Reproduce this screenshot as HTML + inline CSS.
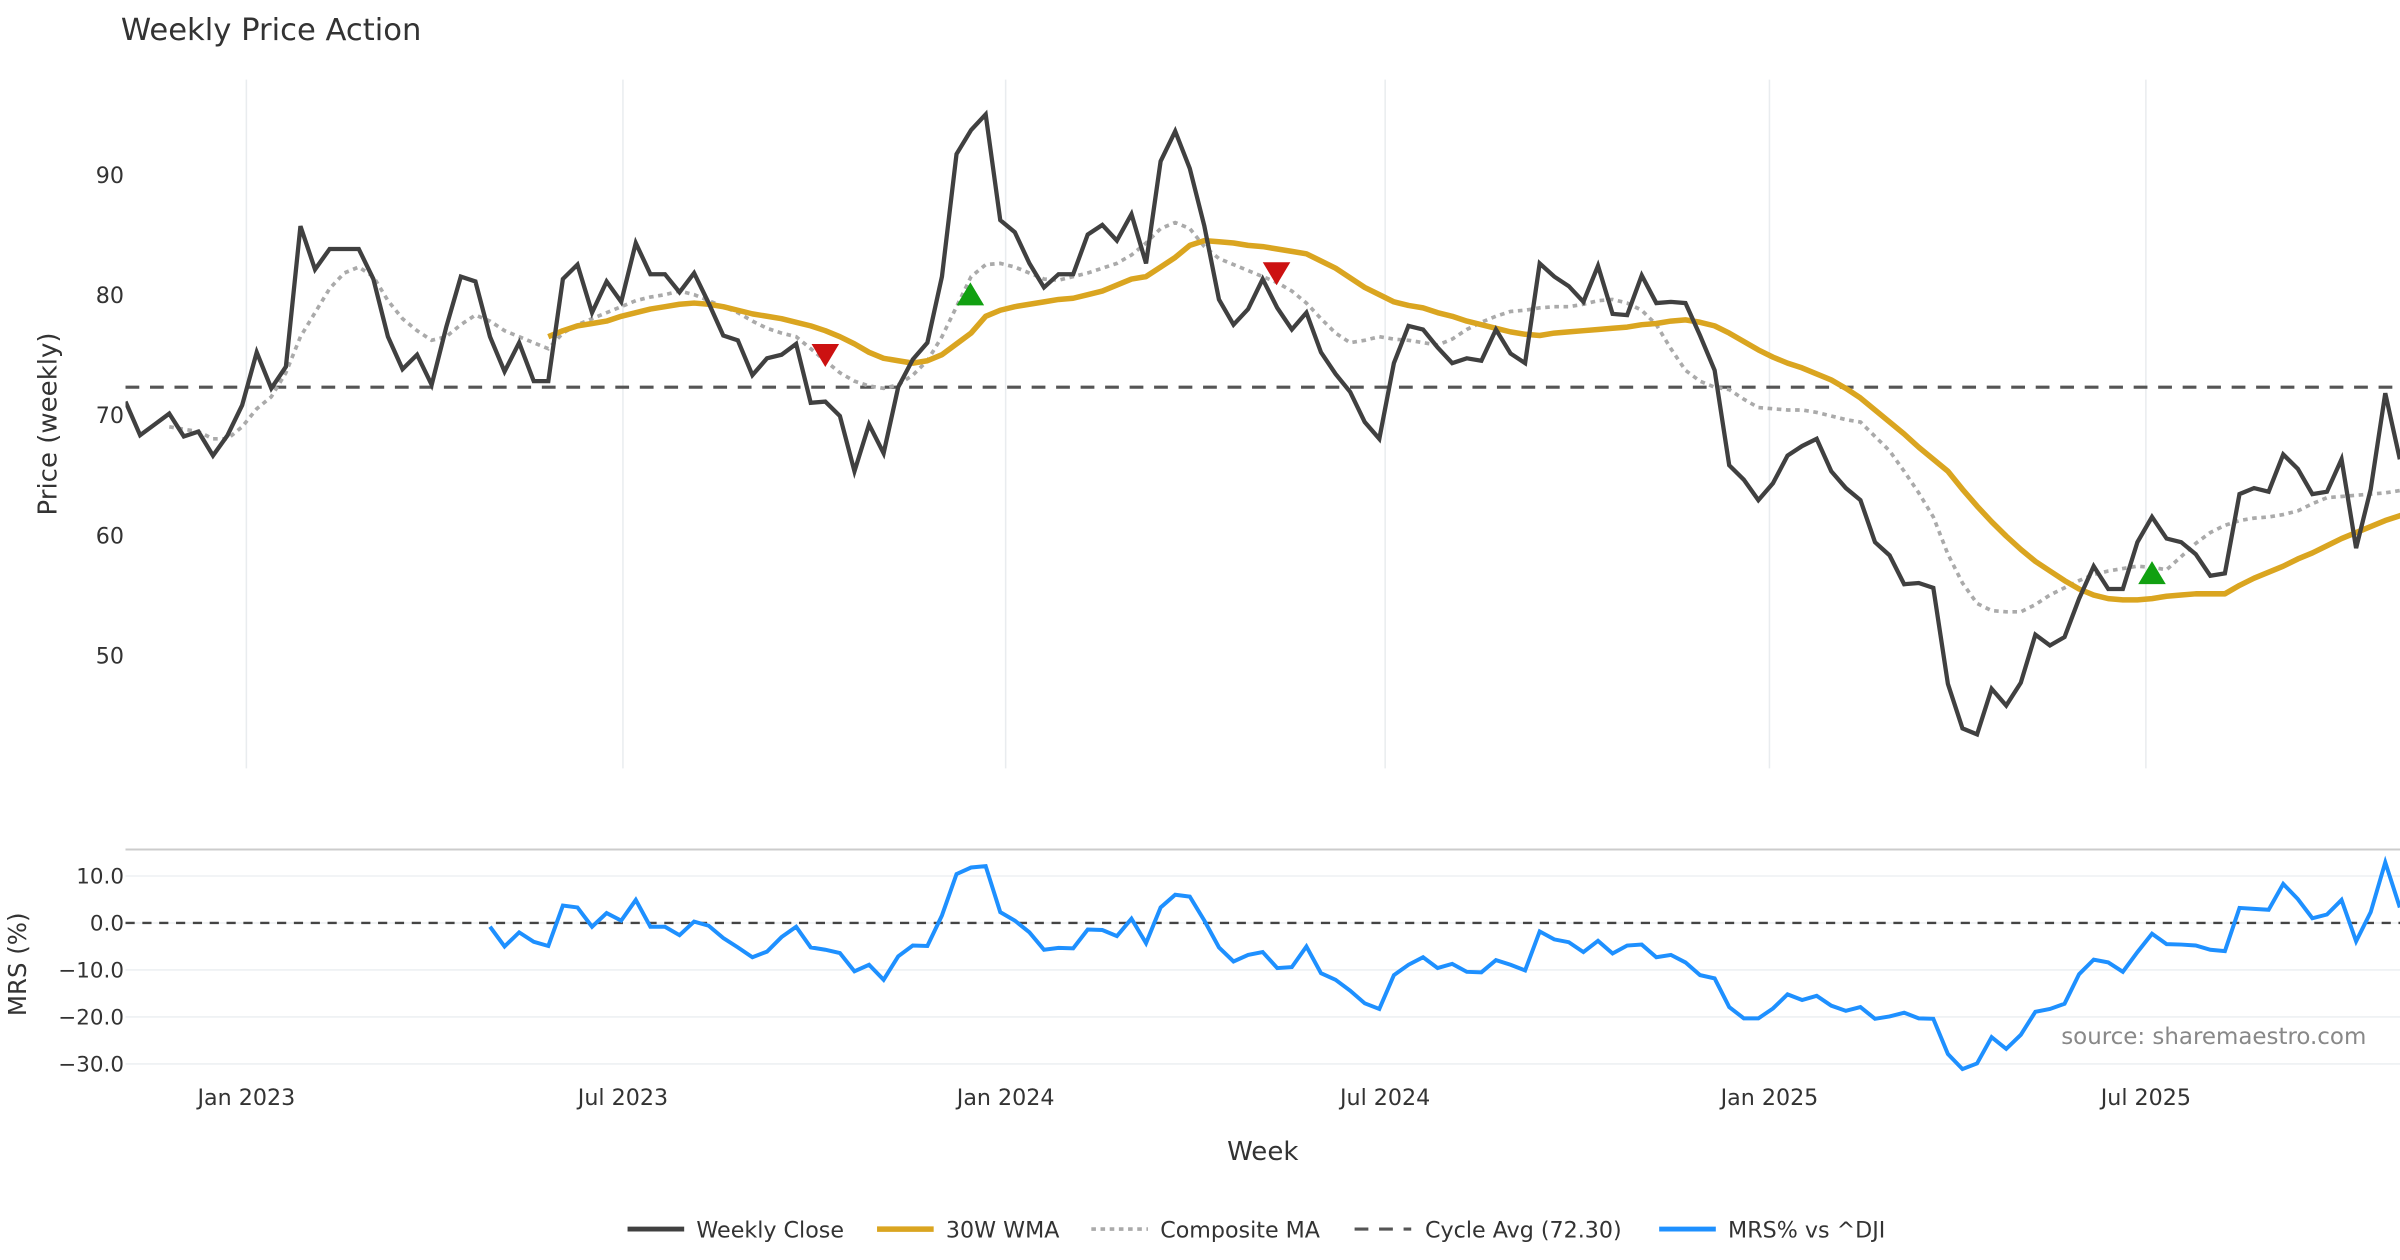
<!DOCTYPE html>
<html><head><meta charset="utf-8"><style>
html,body{margin:0;padding:0;background:#fff;}
svg{display:block;font-family:"DejaVu Sans","Liberation Sans",sans-serif;}
</style></head><body>
<svg id="chart" width="2400" height="1260" viewBox="0 0 1568 823.2" xmlns="http://www.w3.org/2000/svg">
<defs><clipPath id="plotclip"><rect x="82" y="40" width="1486" height="700"/></clipPath></defs>
<rect x="0" y="0" width="1568" height="823.2" fill="#fff"/>
<text x="79" y="26" font-size="20" fill="#333">Weekly Price Action</text>
<g id="grid"></g>
<g id="series" clip-path="url(#plotclip)"></g>
<g id="axes"></g>
<text transform="translate(37,277) rotate(-90)" text-anchor="middle" font-size="17" fill="#333">Price (weekly)</text>
<text transform="translate(17,630) rotate(-90)" text-anchor="middle" font-size="16" fill="#333">MRS (%)</text>
<text x="825" y="758" text-anchor="middle" font-size="17" fill="#333">Week</text>
<text x="1546" y="682" text-anchor="end" font-size="15" fill="#888">source: sharemaestro.com</text>
<g id="legend">
  <g><line x1="410" y1="803" x2="447" y2="803" stroke="#404040" stroke-width="3.2"/><text x="455" y="808.5" font-size="14.5" fill="#333">Weekly Close</text></g>
  <g><line x1="573" y1="803" x2="610" y2="803" stroke="#DAA520" stroke-width="3.6"/><text x="618" y="808.5" font-size="14.5" fill="#333">30W WMA</text></g>
  <g><line x1="713" y1="803" x2="750" y2="803" stroke="#aaa" stroke-width="2.4" stroke-dasharray="3 3"/><text x="758" y="808.5" font-size="14.5" fill="#333">Composite MA</text></g>
  <g><line x1="885" y1="803" x2="922" y2="803" stroke="#555" stroke-width="2" stroke-dasharray="9 7"/><text x="931" y="808.5" font-size="14.5" fill="#333">Cycle Avg (72.30)</text></g>
  <g><line x1="1084" y1="803" x2="1121" y2="803" stroke="#1E90FF" stroke-width="3.2"/><text x="1129" y="808.5" font-size="14.5" fill="#333">MRS% vs ^DJI</text></g>
</g>
</svg>
<script>
const closeVals = [71.1,68.3,69.2,70.1,68.2,68.6,66.6,68.3,70.8,75.2,72.2,74.0,85.7,82.1,83.8,83.8,83.8,81.3,76.5,73.8,75.0,72.5,77.3,81.5,81.1,76.5,73.6,76.0,72.8,72.8,81.3,82.5,78.5,81.1,79.4,84.3,81.7,81.7,80.2,81.8,79.3,76.6,76.2,73.3,74.7,75.0,75.9,71.0,71.1,69.9,65.3,69.2,66.8,72.3,74.6,76.0,81.5,91.7,93.7,95.0,86.2,85.2,82.6,80.6,81.7,81.7,85.0,85.8,84.5,86.7,82.6,91.1,93.6,90.5,85.7,79.6,77.5,78.8,81.3,78.9,77.1,78.5,75.2,73.4,71.9,69.4,68.0,74.3,77.4,77.1,75.6,74.3,74.7,74.5,77.1,75.1,74.3,82.6,81.5,80.7,79.4,82.4,78.4,78.3,81.6,79.3,79.4,79.3,76.6,73.7,65.8,64.6,62.9,64.3,66.6,67.4,68.0,65.3,63.9,62.9,59.4,58.3,55.9,56.0,55.6,47.6,43.9,43.4,47.2,45.8,47.7,51.7,50.8,51.5,54.7,57.4,55.5,55.5,59.4,61.5,59.7,59.4,58.4,56.6,56.8,63.4,63.9,63.6,66.7,65.5,63.4,63.6,66.3,58.9,63.8,71.8,66.3];
const wmaVals = [null,null,null,null,null,null,null,null,null,null,null,null,null,null,null,null,null,null,null,null,null,null,null,null,null,null,null,null,null,
76.5,77.0,77.4,77.6,77.8,78.2,78.5,78.8,79.0,79.2,79.3,79.2,79.0,78.7,78.4,78.2,78.0,77.7,77.4,77.0,76.5,75.9,75.2,74.7,74.5,74.3,74.5,75.0,75.9,76.8,78.2,78.7,79.0,79.2,79.4,79.6,79.7,80.0,80.3,80.8,81.3,81.5,82.3,83.1,84.1,84.5,84.4,84.3,84.1,84.0,83.8,83.6,83.4,82.8,82.2,81.4,80.6,80.0,79.4,79.1,78.9,78.5,78.2,77.8,77.5,77.2,76.9,76.7,76.6,76.8,76.9,77.0,77.1,77.2,77.3,77.5,77.6,77.8,77.9,77.7,77.4,76.8,76.1,75.4,74.8,74.3,73.9,73.4,72.9,72.2,71.4,70.4,69.4,68.4,67.3,66.3,65.3,63.8,62.4,61.1,59.9,58.8,57.8,57.0,56.2,55.5,55.0,54.7,54.6,54.6,54.7,54.9,55.0,55.1,55.1,55.1,55.8,56.4,56.9,57.4,58.0,58.5,59.1,59.7,60.2,60.7,61.2,61.6,62.0];
const compositeVals = [null,null,null,
69.0,68.8,68.6,68.0,68.0,69.0,70.5,71.5,73.5,76.5,78.5,80.5,81.8,82.3,81.5,79.5,78.0,77.0,76.2,76.5,77.5,78.3,77.8,77.0,76.5,76.0,75.5,76.8,77.5,78.0,78.5,79.0,79.5,79.8,80.0,80.3,80.0,79.5,79.0,78.5,77.8,77.2,76.8,76.5,75.5,74.5,73.5,72.8,72.4,72.2,72.5,73.3,74.5,76.5,79,81.5,82.5,82.6,82.3,81.8,81.3,81.2,81.5,81.8,82.2,82.6,83.3,84.3,85.5,86.0,85.5,84,83,82.5,82,81.5,81,80.3,79.3,78,76.8,76,76.2,76.5,76.3,76.2,76,75.8,76.3,77.1,77.7,78.2,78.6,78.7,78.9,79,79,
79.2,79.5,79.6,79.3,78.7,77.5,75.5,73.7,72.8,72.3,72.1,71.3,70.6,70.5,70.4,70.4,70.2,69.9,69.6,69.4,68.2,67.0,65.3,63.5,61.5,58.4,56.0,54.3,53.7,53.6,53.6,54.2,55.0,55.6,56.2,56.7,57.0,57.2,57.4,57.3,57.1,58.2,59.3,60.2,60.8,61.2,61.4,61.5,61.7,62.0,62.6,63.1,63.2,63.3,63.4,63.5,63.7];
const mrsVals = [null,null,null,null,null,null,null,null,null,null,null,null,null,null,null,null,null,null,null,null,null,null,null,null,null,
-0.8,-5.0,-2.0,-4.0,-4.9,3.7,3.3,-0.8,2.1,0.5,4.9,-0.8,-0.8,-2.6,0.3,-0.6,-3.2,-5.2,-7.3,-6.1,-3.0,-0.8,-5.2,-5.7,-6.4,-10.3,-8.9,-12.1,-7.1,-4.8,-4.9,1.6,10.4,11.8,12.1,2.3,0.5,-2.0,-5.7,-5.3,-5.4,-1.4,-1.5,-2.8,0.9,-4.3,3.3,6.0,5.6,0.5,-5.2,-8.2,-6.8,-6.2,-9.6,-9.4,-5.0,-10.7,-12.1,-14.4,-17.1,-18.3,-11.1,-8.9,-7.3,
-9.6,-8.7,-10.4,-10.5,-7.9,-8.9,-10.1,-1.8,-3.5,-4.1,-6.2,-3.8,-6.5,-4.8,-4.6,-7.3,-6.8,-8.4,-11.1,-11.8,-17.9,-20.3,-20.3,-18.2,-15.2,-16.4,-15.5,-17.6,-18.7,-17.9,-20.4,-19.9,-19.1,-20.3,-20.4,-27.9,-31.1,-29.9,-24.3,-26.8,-23.8,-18.9,-18.3,-17.2,-10.9,-7.8,-8.4,-10.4,-6.2,-2.3,-4.5,-4.6,-4.8,-5.7,-6.0,3.2,3.0,2.8,8.3,5.1,1.0,1.8,4.9,-3.9,2.3,12.9,3.3];
const cycleAvg = 72.30;
const priceTicks = [50,60,70,80,90];
const mrsTicks = [10,0,-10,-20,-30];
const mrsTickLabels = ["10.0","0.0","\u221210.0","\u221220.0","\u221230.0"];
const dateTickIdx = [8.29,34.12,60.37,86.4,112.76,138.58];
const dateTickLabels = ["Jan 2023","Jul 2023","Jan 2024","Jul 2024","Jan 2025","Jul 2025"];
const signalUpIdx = [57.95,139.0];
const signalUpVals = [80.0,56.8];
const signalDownIdx = [48.0,78.95];
const signalDownVals = [75.0,81.8];

const NS="http://www.w3.org/2000/svg";
function xs(i){return 82 + i*9.525;}
function yp(v){return 114 + (90-v)*7.85;}
function ym(v){return 603 - v*3.07;}
function mk(tag,attrs,parent){const e=document.createElementNS(NS,tag);for(const k in attrs)e.setAttribute(k,attrs[k]);parent.appendChild(e);return e;}
const grid=document.getElementById('grid'),ser=document.getElementById('series'),axes=document.getElementById('axes');

dateTickIdx.forEach((d,k)=>{
  const l=mk('line',{x1:xs(d),x2:xs(d),y1:52,y2:502,stroke:'#e9ecef','stroke-width':1},grid);
  
  
  const t=mk('text',{x:xs(d),y:722,'text-anchor':'middle','font-size':14.5,fill:'#333'},axes);
  t.textContent=dateTickLabels[k];
  
  
});
priceTicks.forEach(v=>{
  const t=mk('text',{x:81,y:yp(v)+5.5,'text-anchor':'end','font-size':14.5,fill:'#333'},axes);
  t.textContent=v;
  
  
});
const border=mk('line',{x1:82,x2:1568,y1:555,y2:555,stroke:'#ccc','stroke-width':1.3},grid);


mrsTicks.forEach((v,k)=>{
  const l=mk('line',{x1:82,x2:1568,y1:ym(v),y2:ym(v),stroke:'#edf0f3','stroke-width':1},grid);
  
  
  const t=mk('text',{x:81,y:ym(v)+5,'text-anchor':'end','font-size':14,fill:'#333'},axes);
  t.textContent=mrsTickLabels[k];
  
  
});
function pathFor(arr,yf){let d='',pen=false;arr.forEach((v,i)=>{if(v===null||v===undefined){pen=false;return;}d+=(pen?'L':'M')+xs(i).toFixed(2)+','+yf(v).toFixed(2);pen=true;});return d;}

const cyc=mk('line',{x1:82,x2:1568,y1:yp(cycleAvg),y2:yp(cycleAvg),stroke:'#555','stroke-width':2,'stroke-dasharray':'9 7'},ser);


const zero=mk('line',{x1:82,x2:1568,y1:ym(0),y2:ym(0),stroke:'#444','stroke-width':1.5,'stroke-dasharray':'6 5'},ser);



const comp=mk('path',{d:pathFor(compositeVals,yp),fill:'none',stroke:'#aaa','stroke-width':2.4,'stroke-dasharray':'3 3'},ser);


const wma=mk('path',{d:pathFor(wmaVals,yp),fill:'none',stroke:'#DAA520','stroke-width':3.6,'stroke-linejoin':'round'},ser);


const cl=mk('path',{d:pathFor(closeVals,yp),fill:'none',stroke:'#404040','stroke-width':2.8,'stroke-linejoin':'miter'},ser);


const mrs=mk('path',{d:pathFor(mrsVals,ym),fill:'none',stroke:'#1E90FF','stroke-width':2.6,'stroke-linejoin':'miter'},ser);



signalUpIdx.forEach((d,k)=>{
  const x=xs(d),y=yp(signalUpVals[k]);
  const p=mk('polygon',{points:`${x-9},${y+7} ${x+9},${y+7} ${x},${y-8}`,fill:'#11a011'},ser);
  
  
});
signalDownIdx.forEach((d,k)=>{
  const x=xs(d),y=yp(signalDownVals[k]);
  const p=mk('polygon',{points:`${x-9},${y-7} ${x+9},${y-7} ${x},${y+8}`,fill:'#cc1111'},ser);
  
  
});
</script>
</body></html>
